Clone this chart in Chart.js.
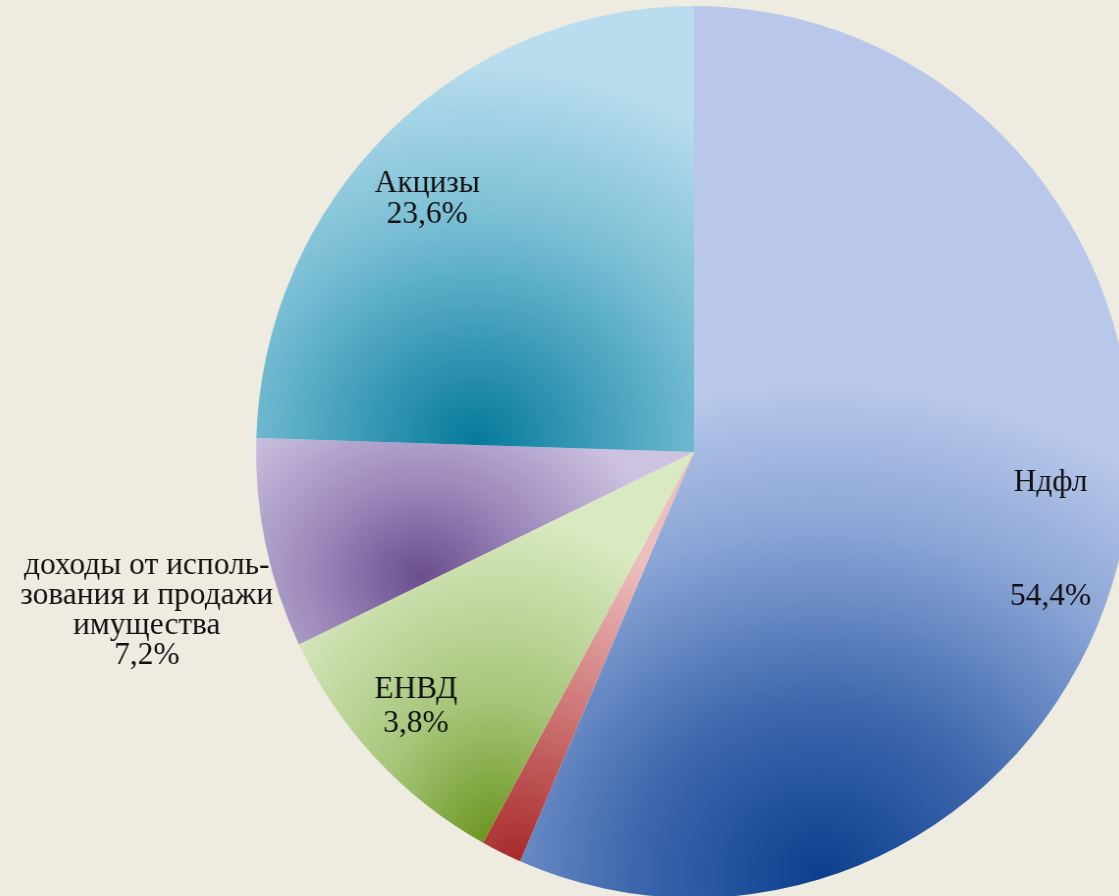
<!DOCTYPE html>
<html lang="ru">
<head>
<meta charset="utf-8">
<title>Структура налоговых доходов</title>
<script src="https://cdn.jsdelivr.net/npm/chart.js@4.4.1/dist/chart.umd.min.js"></script>
<style>
  html, body { margin: 0; padding: 0; background: #eeebe0; overflow: hidden; }
  #wrap { width: 1119px; height: 896px; overflow: hidden; position: relative; }
  /* круг на исходной картинке чуть сжат по горизонтали */
  #taxChart { display: block; transform: scaleX(0.982); transform-origin: 694px 0; }
</style>
</head>
<body>
<div id="wrap"><canvas id="taxChart" width="1388" height="904"></canvas></div>
<script>
// категории и доли (доли считаны по углам секторов на картинке)
const categories = ['Ндфл', 'прочие', 'ЕНВД', 'доходы от использования и продажи имущества', 'Акцизы'];
const shares = [56.5, 1.5, 9.9, 7.6, 24.5];
// подписи, как они написаны на диаграмме
const labelLines = [
  ['Ндфл', '', '', '54,4%'],
  [],
  ['ЕНВД', '3,8%'],
  ['доходы от исполь-', 'зования и продажи', 'имущества', '7,2%'],
  ['Акцизы', '23,6%']
];

// --- оформление ---
const PIE_RADIUS = 446;
const gradStops = [
  [[0, '#0c3f8e'], [0.35, '#3e68ae'], [0.7, '#89a4d5'], [1, '#b9c8ea']],
  [[0, '#a82a2a'], [0.5, '#cf7777'], [1, '#ecbebe']],
  [[0, '#66921a'], [0.45, '#a6c679'], [1, '#d9e9c1']],
  [[0, '#6a4e8e'], [0.45, '#9c87ba'], [1, '#cdc3e0']],
  [[0, '#067a9b'], [0.45, '#5fb0c9'], [0.6, '#7dc0d5'], [1, '#b9ddee']]
];
// центр градиента: угол (град.), доля радиуса; размеры эллипса (доли радиуса)
const gradCenter = [[73, 0.99], [114, 1.0], [117, 1.0], [156, 0.68], [183, 0.5]];
const gradSize = [[1.25, 1.1], [0.72, 0.72], [0.62, 0.75], [0.55, 0.45], [0.95, 0.85]];
// подписи: доля радиуса, сдвиг x, сдвиг y, размер шрифта, межстрочный
const labelStyle = [
  [0.82, 5, 13, 32, 38],
  null,
  [0.84, -11, -3, 32, 34],
  [1.27, -3, 42, 32, 30],
  [0.83, -14, 13, 32, 31]
];

const fillCache = {};
function sliceFill(c) {
  const chart = c.chart;
  const area = chart.chartArea;
  if (!area) return '#999';
  const i = c.dataIndex;
  if (fillCache[i]) return fillCache[i];

  const cx = (area.left + area.right) / 2;
  const cy = (area.top + area.bottom) / 2;
  const a = gradCenter[i][0] * Math.PI / 180;
  const gx = cx + Math.cos(a) * PIE_RADIUS * gradCenter[i][1];
  const gy = cy + Math.sin(a) * PIE_RADIUS * gradCenter[i][1];
  const rx = gradSize[i][0] * PIE_RADIUS;
  const ry = gradSize[i][1] * PIE_RADIUS;

  // эллиптический градиент рисуем на отдельном холсте и берём как узор
  const off = document.createElement('canvas');
  off.width = chart.width;
  off.height = chart.height;
  const octx = off.getContext('2d');
  octx.setTransform(1, 0, 0, ry / rx, gx, gy);
  const g = octx.createRadialGradient(0, 0, 0, 0, 0, rx);
  gradStops[i].forEach(s => g.addColorStop(s[0], s[1]));
  octx.fillStyle = g;
  octx.fillRect(-5000, -5000, 10000, 10000);

  fillCache[i] = chart.ctx.createPattern(off, 'no-repeat');
  return fillCache[i];
}

// подписи секторов
const sliceLabels = {
  id: 'sliceLabels',
  afterDatasetsDraw(chart) {
    const ctx = chart.ctx;
    const arcs = chart.getDatasetMeta(0).data;
    arcs.forEach((arc, i) => {
      const lines = labelLines[i];
      const st = labelStyle[i];
      if (!lines.length || !st) return;
      const p = arc.getProps(['x', 'y', 'startAngle', 'endAngle', 'outerRadius'], true);
      const mid = (p.startAngle + p.endAngle) / 2;
      const x = p.x + Math.cos(mid) * p.outerRadius * st[0] + st[1];
      const y = p.y + Math.sin(mid) * p.outerRadius * st[0] + st[2];
      ctx.save();
      ctx.font = st[3] + 'px "Liberation Serif", serif';
      ctx.fillStyle = '#111';
      ctx.textAlign = 'center';
      ctx.textBaseline = 'middle';
      lines.forEach((t, k) => {
        ctx.fillText(t, x, y + (k - (lines.length - 1) / 2) * st[4]);
      });
      ctx.restore();
    });
  }
};

const ctx = document.getElementById('taxChart').getContext('2d');
const taxChart = new Chart(ctx, {
  type: 'pie',
  data: {
    labels: categories,
    datasets: [{
      data: shares,
      backgroundColor: sliceFill,
      borderWidth: 0
    }]
  },
  options: {
    responsive: false,
    animation: false,
    radius: PIE_RADIUS,
    layout: { padding: 0 },
    plugins: {
      legend: { display: false },
      tooltip: { enabled: false }
    }
  },
  plugins: [sliceLabels]
});
</script>
</body>
</html>
